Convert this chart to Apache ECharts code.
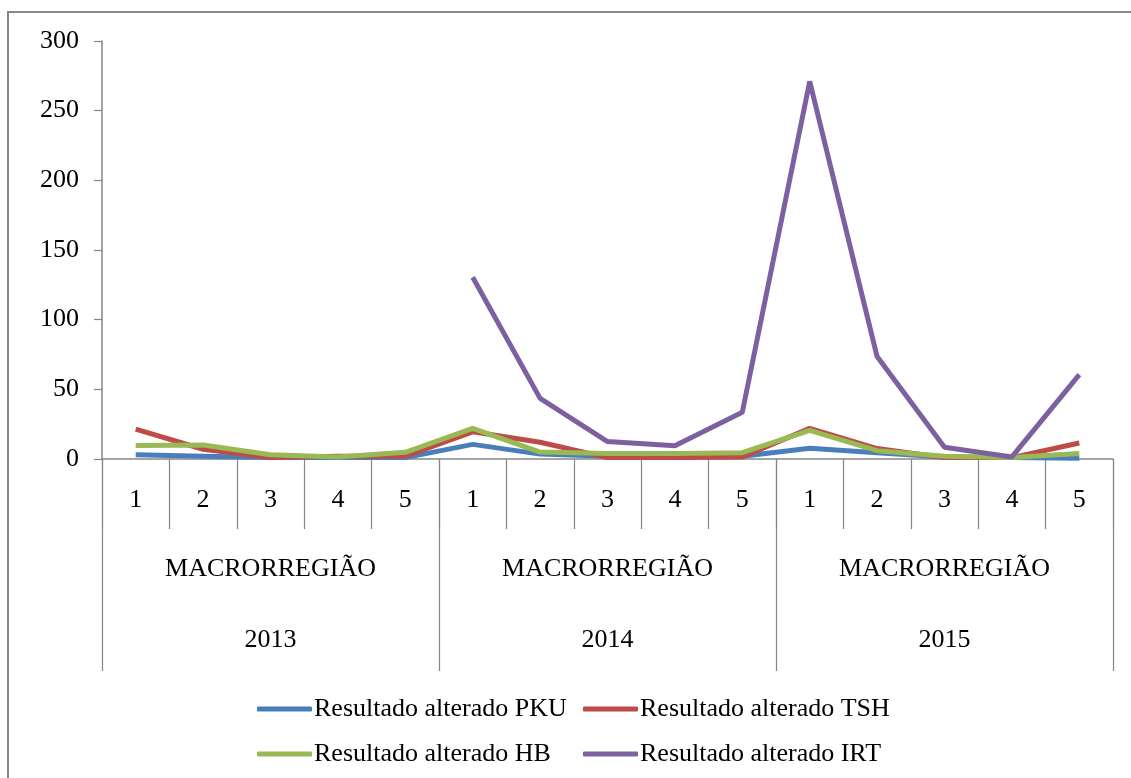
<!DOCTYPE html>
<html lang="pt">
<head>
    <meta charset="UTF-8">
    <title>Resultados alterados</title>
    <style type="text/css">
        html, body {height: 100%; margin: 0; background: #ffffff;}
    </style>
</head>
<body>
    <div id="container_1" style="width: 1131px; height: 778px;"></div>
    <script type="text/javascript" src="https://cdn.jsdelivr.net/npm/echarts@6/dist/echarts.min.js"></script>
    <script type="text/javascript">
        var macroNums = ['1', '2', '3', '4', '5', '1', '2', '3', '4', '5', '1', '2', '3', '4', '5'];
        var groupLabel = 'MACRORREGIÃO';
        var years = ['2013', '2014', '2015'];
        var yTicks = [0, 50, 100, 150, 200, 250, 300];

        var pku = [3, 2, 1, 1, 1, 10.5, 3.5, 2, 2, 2, 7.7, 4.5, 1.5, 1, 0.5];
        var tsh = [21.5, 7, 1, 2, 2, 19.5, 12, 1, 1, 1.5, 22, 7.5, 1, 1, 11.5];
        var hb = [9.6, 10, 3, 1.5, 4.8, 22, 5, 4, 4, 4.5, 20.5, 6, 2, 1, 4];
        var irt = [null, null, null, null, null, 130.5, 43.5, 12.5, 9.5, 33.5, 271, 73.5, 8.5, 1.5, 60.5];

        var header = {
            pku: 'Resultado alterado PKU',
            tsh: 'Resultado alterado TSH',
            hb: 'Resultado alterado HB',
            irt: 'Resultado alterado IRT'
        };
        var colors = ['#4A7EBB', '#BE4B48', '#98B954', '#7D60A0'];
        var axisColor = '#868686';
        var font = 'Liberation Serif';

        var dom = document.getElementById('container_1');
        var myChart = echarts.init(dom);

        function lineSeries(name, data, color) {
            return {
                name: name, type: 'line', data: data, xAxisIndex: 0,
                showSymbol: false, symbol: 'none', connectNulls: false,
                lineStyle: {width: 5, color: color}, itemStyle: {color: color},
                animation: false
            };
        }

        var legendBase = {
            orient: 'vertical',
            top: 689,
            itemWidth: 55,
            itemHeight: 5,
            itemGap: 15,
            icon: 'roundRect',
            textStyle: {fontFamily: font, fontSize: 26, color: '#000', lineHeight: 30, padding: [0, 0, 0, -3]}
        };

        var option = {
            color: colors,
            textStyle: {fontFamily: font},
            grid: {left: 102, right: 18, top: 41, bottom: 319, containLabel: false},
            graphic: [{
                type: 'rect',
                shape: {x: 8, y: 12, width: 1200, height: 800},
                style: {fill: 'none', stroke: '#878787', lineWidth: 2},
                silent: true
            }],
            legend: [
                Object.assign({}, legendBase, {left: 252, data: [header.pku, header.hb]}),
                Object.assign({}, legendBase, {left: 578, data: [header.tsh, header.irt]})
            ],
            xAxis: [{
                type: 'category',
                data: macroNums,
                position: 'bottom',
                boundaryGap: true,
                axisLine: {lineStyle: {color: axisColor, width: 1.5}},
                axisTick: {show: true, interval: 0, length: 70, lineStyle: {color: axisColor, width: 1.2}},
                axisLabel: {interval: 0, margin: 28, fontFamily: font, fontSize: 26, color: '#000'}
            }, {
                type: 'category',
                data: years,
                position: 'bottom',
                boundaryGap: true,
                axisLine: {show: false},
                axisTick: {show: true, interval: 0, length: 212, lineStyle: {color: axisColor, width: 1.2}},
                axisLabel: {
                    interval: 0, margin: 75, fontFamily: font, fontSize: 26, color: '#000', lineHeight: 71,
                    formatter: function (v) { return groupLabel + '\n' + v; }
                }
            }],
            yAxis: {
                type: 'value',
                min: yTicks[0],
                max: yTicks[yTicks.length - 1],
                interval: 50,
                splitLine: {show: false},
                axisLine: {show: true, lineStyle: {color: axisColor, width: 1.5}},
                axisTick: {show: true, length: 8, lineStyle: {color: axisColor, width: 1.2}},
                axisLabel: {margin: 23, fontFamily: font, fontSize: 26, color: '#000'}
            },
            series: [
                lineSeries(header.pku, pku, colors[0]),
                lineSeries(header.tsh, tsh, colors[1]),
                lineSeries(header.hb, hb, colors[2]),
                lineSeries(header.irt, irt, colors[3])
            ]
        };
        myChart.setOption(option);
    </script>
</body>
</html>
